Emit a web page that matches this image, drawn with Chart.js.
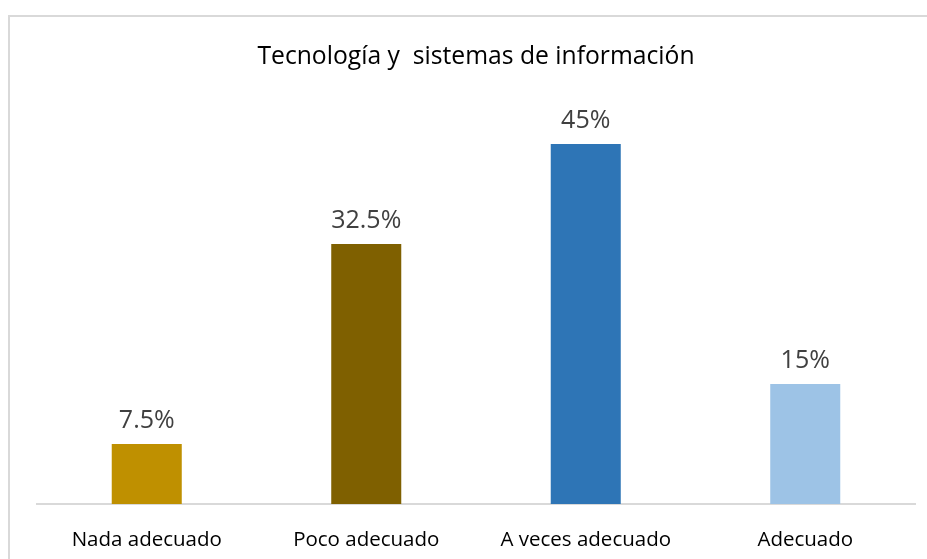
<!DOCTYPE html>
<html>
<head>
<meta charset="utf-8">
<script src="https://cdn.jsdelivr.net/npm/chart.js@4.4.0/dist/chart.umd.min.js"></script>
<style>
	html, body { margin: 0; padding: 0; background: #fff; overflow: hidden; }
	#wrap { position: relative; width: 927px; height: 559px; overflow: hidden; }
	#frame { position: absolute; left: 8px; top: 15px; width: 2000px; height: 2000px; border: 2px solid #d9d9d9; box-sizing: border-box; }
	#chart { position: absolute; left: 0; top: 0; }
</style>
</head>
<body>
<div id="wrap">
	<div id="frame"></div>
	<canvas id="chart" width="927" height="559"></canvas>
</div>
<script>
// datos
const categorias = ["Nada adecuado", "Poco adecuado", "A veces adecuado", "Adecuado"];
const porcentajes = [7.5, 32.5, 45, 15];
const etiquetas = ["7.5%", "32.5%", "45%", "15%"];
const colores = ["#BF9000", "#7F6000", "#2E75B6", "#9DC3E6"];

const FUENTE = "'Open Sans', 'DejaVu Sans', sans-serif";

//etiquetas encima de cada barra
const etiquetasPlugin = {
	id: 'etiquetas',
	afterDatasetsDraw(chart){
		const ctx = chart.ctx;
		const meta = chart.getDatasetMeta(0);
		ctx.save();
		ctx.font = "25px " + FUENTE;
		ctx.fillStyle = "#404040";
		ctx.textAlign = "center";
		ctx.textBaseline = "alphabetic";
		meta.data.forEach((bar, i)=>{
			ctx.fillText(etiquetas[i], bar.x, bar.y - 16);
		});
		ctx.restore();
	}
};

const chart = new Chart(
	document.getElementById('chart'),
	{
		type: 'bar',
		data: {
			labels: categorias,
			datasets: [{
				data: porcentajes,
				backgroundColor: colores,
				borderWidth: 0,
				barPercentage: 0.319,
				categoryPercentage: 1
			}]
		},
		options: {
			responsive: false,
			animation: false,
			layout: {
				padding: { left: 37, right: 12, top: 0, bottom: 0 }
			},
			plugins: {
				legend: { display: false },
				tooltip: { enabled: false },
				title: {
					display: true,
					text: 'Tecnología y  sistemas de información',
					color: '#000',
					font: { family: FUENTE, size: 24.7, weight: 'normal', lineHeight: 1.2 },
					padding: { top: 42, bottom: 32.4 }
				}
			},
			scales: {
				x: {
					grid: { display: false, drawTicks: false },
					border: { display: true, color: '#d9d9d9', width: 2 },
					ticks: {
						color: '#000',
						padding: 24,
						maxRotation: 0,
						font: { family: FUENTE, size: 20.5, lineHeight: 1.2 }
					},
					afterFit: (scale)=>{ scale.height = 55; }
				},
				y: {
					display: false,
					min: 0,
					max: 50
				}
			}
		},
		plugins: [etiquetasPlugin]
	}
);
</script>
</body>
</html>
